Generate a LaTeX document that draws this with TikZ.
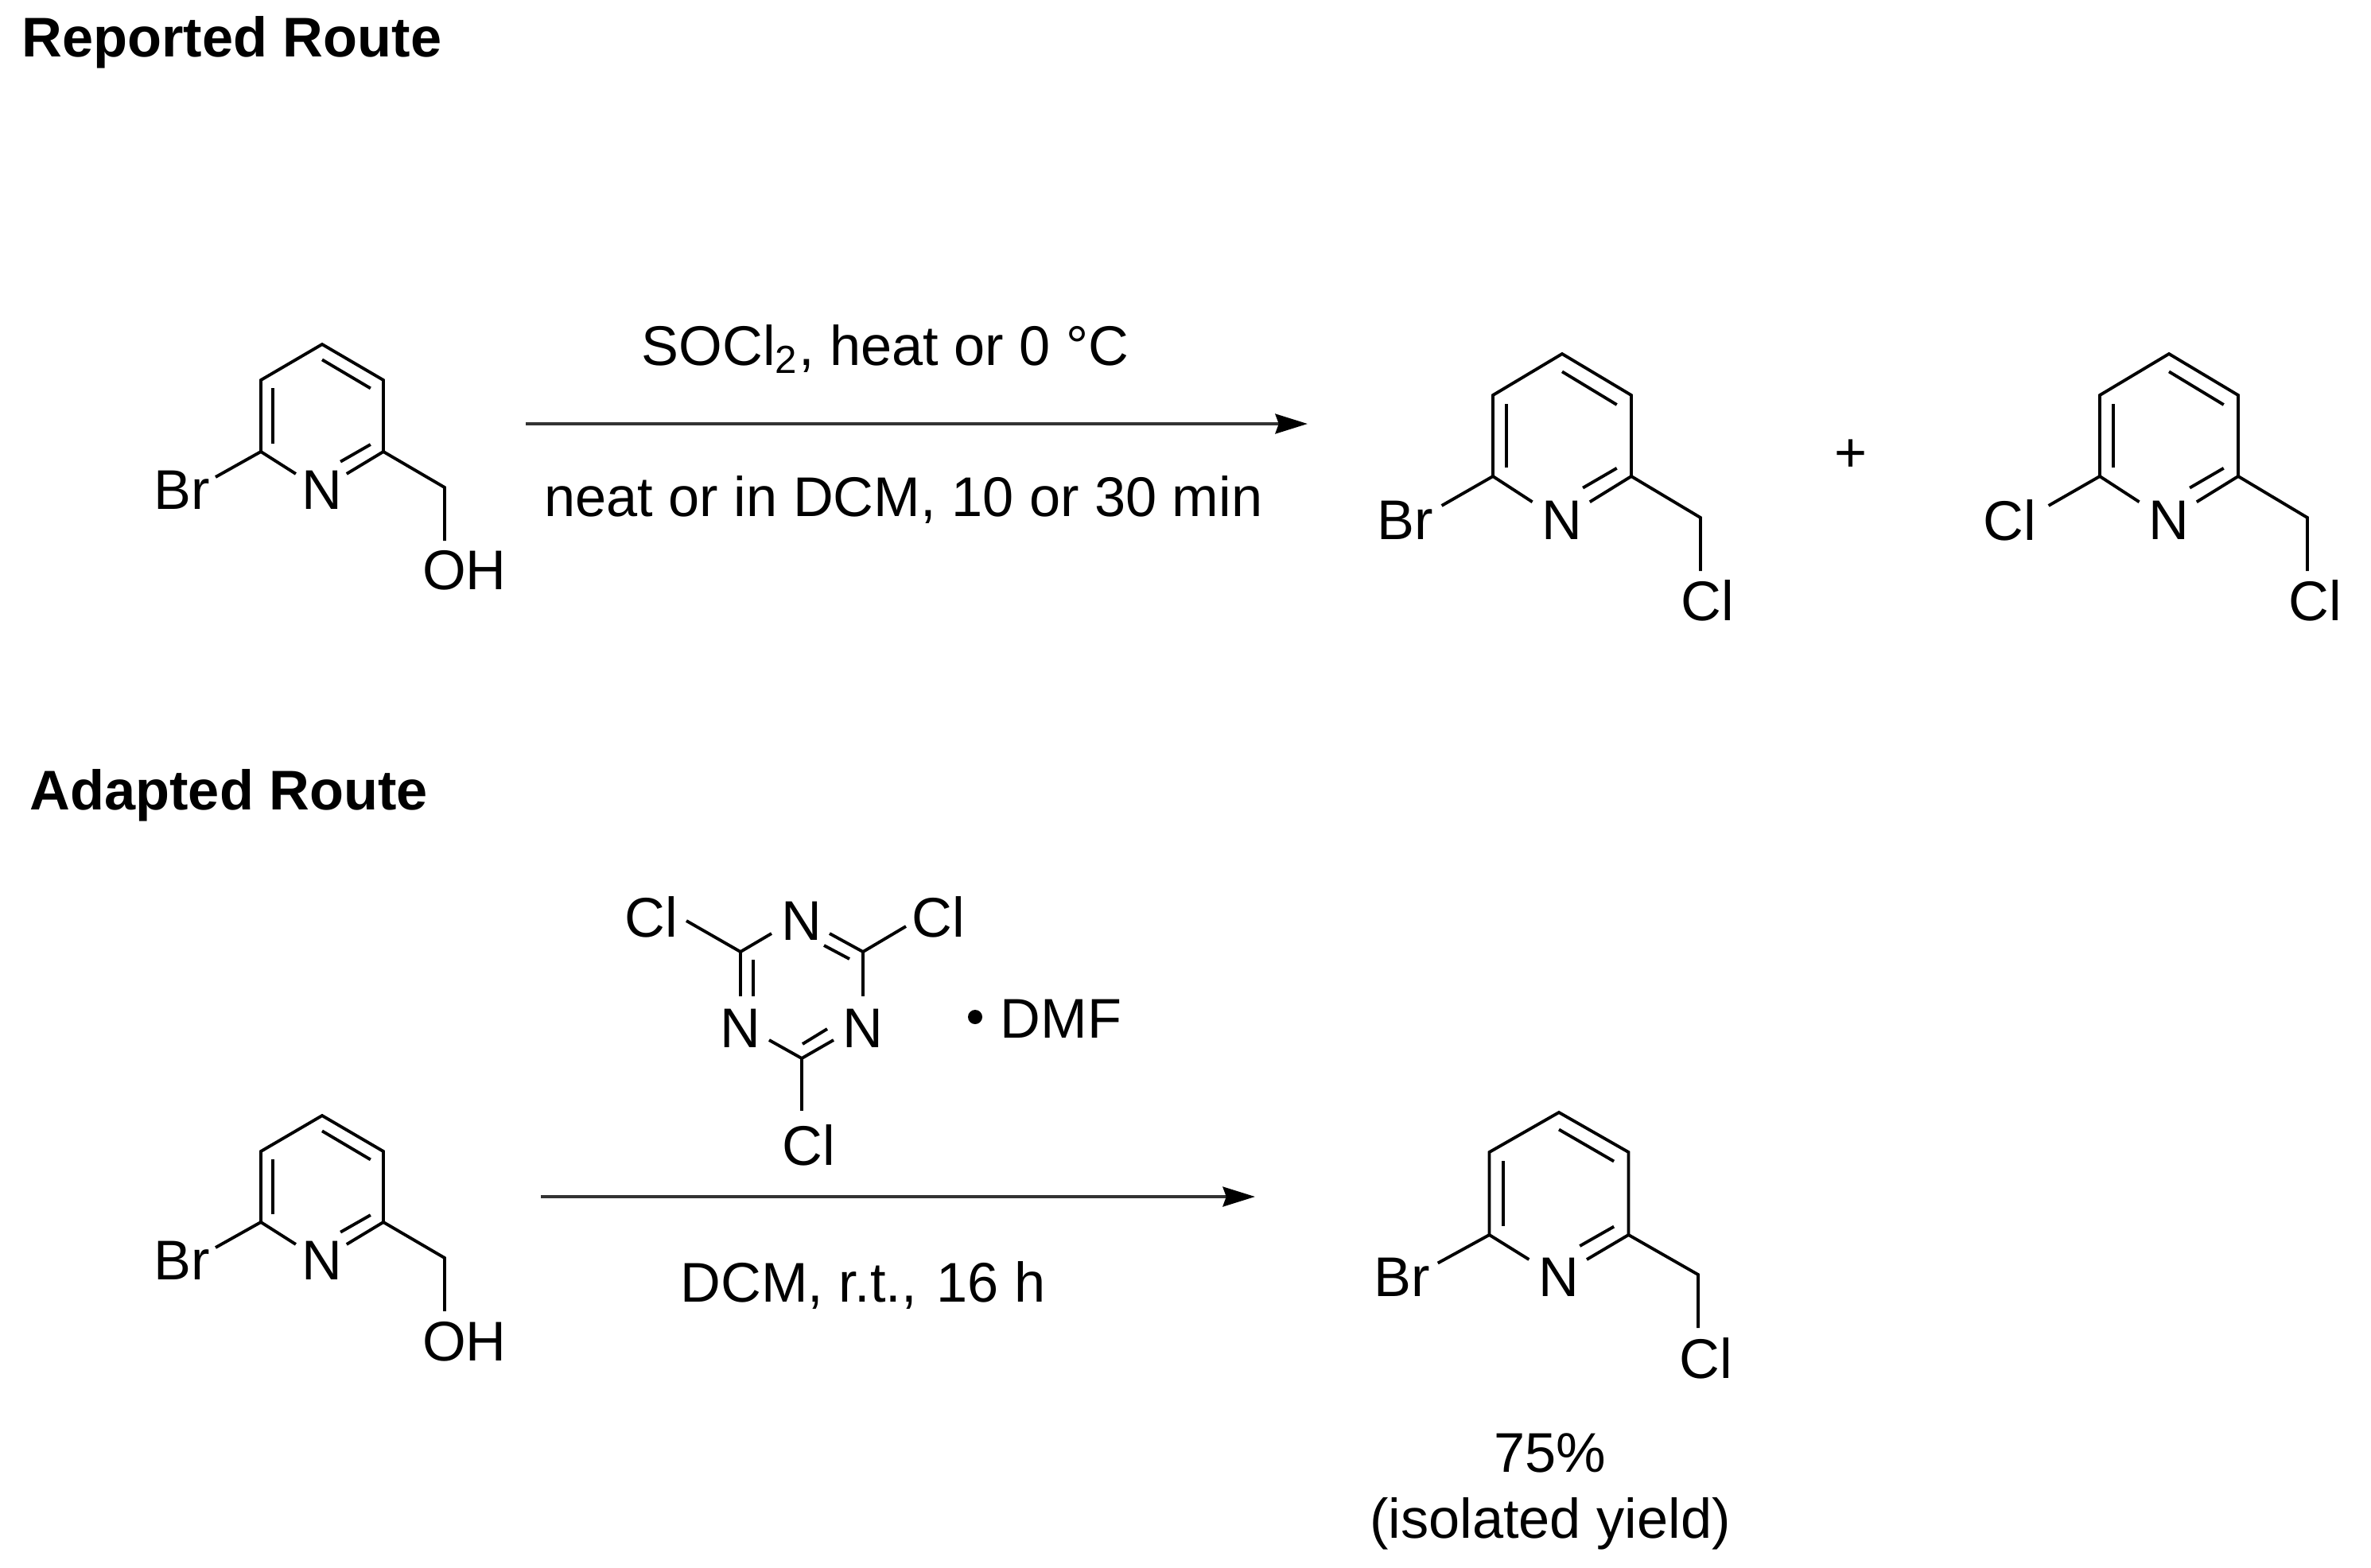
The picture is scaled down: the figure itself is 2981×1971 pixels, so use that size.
\documentclass[tikz,border=0pt]{standalone}
\usepackage{fontspec}
\setmainfont{Liberation Sans}
\usetikzlibrary{calc,arrows.meta}
\def\molfont{\fontsize{20}{23.5}\selectfont}
\tikzset{atom/.style={inner sep=0pt, font=\molfont},
	txt/.style={inner sep=0pt, font=\molfont, align=center},
	heading/.style={inner sep=0pt, font=\fontsize{20}{24}\selectfont\bfseries, anchor=west},
	bond/.style={draw=black, line width=1.1pt, line join=miter},
	rxn/.style={draw=black!80, line width=1.3pt, -{Stealth[length=11.5pt, width=7pt, inset=1.2pt, color=black]}}}
% ring: name, top x, top y, half width, rise, side, x of left atom, left atom
\newcommand{\pyridine}[8]{%
 \coordinate (#1top) at (#2,#3);
 \coordinate (#1ul) at (#2-#4,#3+#5);
 \coordinate (#1ur) at (#2+#4,#3+#5);
 \coordinate (#1ll) at (#2-#4,#3+#5+#6);
 \coordinate (#1lr) at (#2+#4,#3+#5+#6);
 \coordinate (#1ch) at (#2+2*#4,#3+2*#5+#6);
 \node[atom] (#1n) at (#2,#3+2*#5+#6+3) {N};
 \node[atom] (#1x) at (#7,#3+2*#5+#6+3) {#8};
 \draw[bond] ($(#1ll)+(.57*#4,.62*#5)$) -- (#1ll) -- (#1ul) -- (#1top) -- (#1ur) -- (#1lr) -- (#1ch) -- ++(0,67);
 \draw[bond] (#1lr) -- ++(-.6*#4,.62*#5);
 \draw[bond] (#1ll) -- ++(-.74*#4,.71*#5);
 \draw[bond] ($(#1ll)+(.2*#4,-.11*#6)$) -- ($(#1ul)+(.2*#4,.11*#6)$);
 \draw[bond] ($(#1top)+(0,.43*#5)$) -- ($(#1ur)+(-.21*#4,.23*#5)$);
 \draw[bond] ($(#1lr)+(-.21*#4,-.1*#6)$) -- ($(#1lr)+(-.7*#4,.28*#5)$);
}
\begin{document}
\begin{tikzpicture}[x=0.01cm, y=-0.01cm]
\useasboundingbox (0,0) rectangle (2981,1971);

\node[heading] (reported) at (27,53) {Reported Route};
\node[heading] (adapted) at (37,1000) {Adapted Route};

% reported route
\pyridine{a}{405}{433}{77}{45}{90}{229}{Br}
\node[atom] (aoh) at (584,717) {OH};

\node[txt] (socl) at (1113,439) {SOCl\textsubscript{2}, heat or 0 °C};
\node[txt] (neat) at (1136,628) {neat or in DCM, 10 or 30 min};
\coordinate (r1s) at (661,533);
\coordinate (r1e) at (1644,533);
\draw[rxn] (r1s) -- (r1e);

\pyridine{b}{1964}{445}{87}{52}{102}{1767}{Br}
\node[atom] (bcl) at (2147,755) {Cl};

\node[atom] (plus) at (2327,573) {+};

\pyridine{c}{2727}{445}{87}{52}{102}{2527}{Cl}
\node[atom] (ccl) at (2911,755) {Cl};

% adapted route
\node[atom] (tn1) at (1008,1158) {N};
\node[atom] (tn2) at (931,1293) {N};
\node[atom] (tn3) at (1085,1293) {N};
\node[atom] (tcl1) at (819,1153) {Cl};
\node[atom] (tcl2) at (1180,1153) {Cl};
\node[atom] (tcl3) at (1017,1440) {Cl};
\coordinate (tc1) at (931,1197);
\coordinate (tc2) at (1085,1197);
\coordinate (tc3) at (1008,1331);
\draw[bond] (863,1158) -- (tc1) -- (970,1174);
\draw[bond] (1139,1165) -- (tc2) -- (1043,1174);
\draw[bond] (1036,1189) -- (1068,1206);
\draw[bond] (tc1) -- (931,1253);
\draw[bond] (947,1207) -- (947,1253);
\draw[bond] (tc2) -- (1085,1253);
\draw[bond] (967,1308) -- (tc3) -- (1048,1308);
\draw[bond] (1009,1313) -- (1040,1294);
\draw[bond] (tc3) -- (1008,1397);
\node[txt] (dmf) at (1334,1281) {DMF};
\fill (1226,1279) circle (9);

\pyridine{d}{405}{1403}{77}{45}{89}{229}{Br}
\node[atom] (doh) at (584,1687) {OH};

\coordinate (r2s) at (680,1505);
\coordinate (r2e) at (1578,1505);
\draw[rxn] (r2s) -- (r2e);
\node[txt] (dcm) at (1085,1616) {DCM, r.t.,\hspace{1.5pt} 16 h};

\pyridine{e}{1960}{1399}{87.5}{50}{104}{1763}{Br}
\node[atom] (ecl) at (2145,1708) {Cl};
\node[txt] (yield) at (1949,1876) {75\%\\(isolated yield)};

\end{tikzpicture}
\end{document}
